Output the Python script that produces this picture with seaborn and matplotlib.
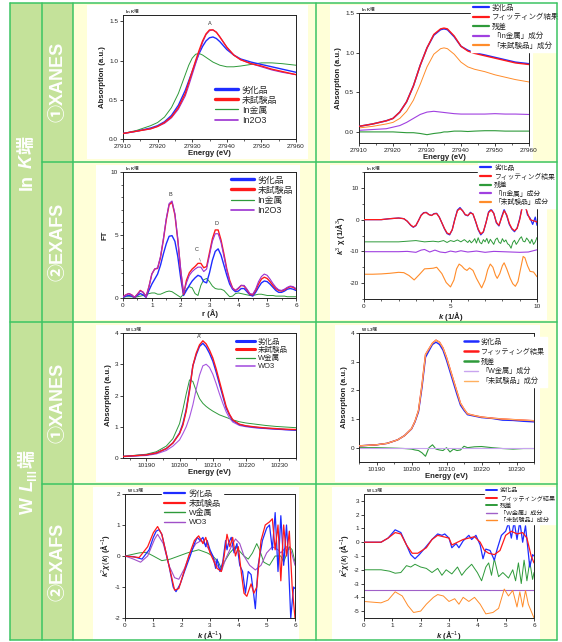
import matplotlib
matplotlib.use('Agg')
import matplotlib.pyplot as plt
import seaborn as sns
from matplotlib.patches import Rectangle
from matplotlib.lines import Line2D
from matplotlib.ticker import MultipleLocator

# ---------------- data ----------------
# In K-edge XANES
in_e = [27910, 27914, 27918, 27920, 27922, 27924, 27926, 27928, 27929, 27930, 27931, 27932, 27933,
        27934, 27935, 27936, 27937, 27938, 27940, 27942, 27944, 27947, 27950, 27953, 27956, 27960]
in_deg = [0.07, 0.10, 0.14, 0.17, 0.22, 0.30, 0.43, 0.62, 0.74, 0.86, 0.98, 1.09, 1.18,
          1.25, 1.29, 1.30, 1.28, 1.24, 1.14, 1.07, 1.02, 0.98, 0.95, 0.92, 0.89, 0.85]
in_new = [0.07, 0.10, 0.13, 0.16, 0.21, 0.28, 0.40, 0.58, 0.72, 0.86, 1.00, 1.13, 1.25,
          1.34, 1.39, 1.39, 1.36, 1.30, 1.17, 1.07, 1.01, 0.96, 0.93, 0.89, 0.86, 0.82]
in_metal = [0.07, 0.11, 0.17, 0.21, 0.28, 0.40, 0.58, 0.82, 0.94, 1.03, 1.08, 1.09, 1.07,
            1.04, 1.01, 0.98, 0.96, 0.94, 0.92, 0.92, 0.93, 0.95, 0.97, 0.97, 0.96, 0.94]
in_oxide = [0.07, 0.10, 0.13, 0.16, 0.20, 0.27, 0.38, 0.55, 0.68, 0.82, 0.96, 1.10, 1.23,
            1.33, 1.38, 1.39, 1.36, 1.30, 1.17, 1.07, 1.01, 0.96, 0.92, 0.88, 0.85, 0.82]

# In K-edge XANES fitting
fit_e = [27910, 27914, 27918, 27920, 27922, 27924, 27926, 27928, 27930, 27932, 27934,
         27935, 27936, 27938, 27940, 27942, 27944, 27947, 27950, 27953, 27956, 27960]
fit_deg = [0.07, 0.10, 0.14, 0.17, 0.25, 0.38, 0.58, 0.84, 1.06, 1.22, 1.29,
           1.30, 1.29, 1.20, 1.08, 1.03, 1.00, 0.97, 0.94, 0.91, 0.88, 0.86]
fit_sum = [0.07, 0.10, 0.14, 0.17, 0.25, 0.38, 0.58, 0.84, 1.06, 1.23, 1.30,
           1.31, 1.30, 1.21, 1.08, 1.02, 0.99, 0.96, 0.93, 0.90, 0.87, 0.85]
fit_res = [0.0, 0.0, 0.0, 0.0, -0.005, -0.01, -0.01, -0.02, -0.035, -0.02, -0.01,
           0.0, 0.0, 0.01, 0.01, 0.005, 0.01, 0.015, 0.015, 0.01, 0.01, 0.01]
fit_metal = [0.02, 0.03, 0.04, 0.06, 0.08, 0.12, 0.17, 0.22, 0.25, 0.26, 0.25,
             0.245, 0.24, 0.23, 0.225, 0.225, 0.225, 0.225, 0.23, 0.225, 0.225, 0.22]
fit_new = [0.05, 0.07, 0.10, 0.12, 0.17, 0.26, 0.40, 0.60, 0.82, 0.98, 1.05,
           1.06, 1.05, 0.98, 0.88, 0.82, 0.79, 0.76, 0.72, 0.69, 0.66, 0.63]

# In K-edge FT
ft_r = [0.0, 0.1, 0.2, 0.3, 0.4, 0.5, 0.6, 0.7, 0.8, 0.9, 1.0, 1.1, 1.2, 1.3, 1.4, 1.5, 1.6, 1.7, 1.8, 1.9,
        2.0, 2.1, 2.2, 2.3, 2.4, 2.5, 2.6, 2.7, 2.8, 2.9, 3.0, 3.1, 3.2, 3.3, 3.4, 3.5, 3.6, 3.7, 3.8, 3.9,
        4.0, 4.1, 4.2, 4.3, 4.4, 4.5, 4.6, 4.7, 4.8, 4.9, 5.0, 5.1, 5.2, 5.3, 5.4, 5.5, 5.6, 5.7, 5.8, 5.9, 6.0]
ft_deg = [0.05, 0.15, 0.2, 0.15, 0.05, 0.2, 0.35, 0.25, 0.05, 0.6, 1.1, 1.5, 1.9, 2.6, 3.5, 4.3, 4.9, 4.95, 4.5, 3.3,
          1.6, 0.2, 0.6, 1.0, 1.35, 1.6, 1.8, 1.7, 1.3, 1.2, 2.0, 3.0, 3.7, 3.9, 3.4, 2.6, 1.8, 1.1, 0.7, 0.5,
          0.55, 0.75, 0.75, 0.5, 0.25, 0.15, 0.45, 0.85, 1.2, 1.35, 1.3, 1.1, 0.85, 0.6, 0.45, 0.45, 0.55, 0.7, 0.75, 0.7, 0.6]
ft_new = [0.1, 0.25, 0.35, 0.25, 0.05, 0.3, 0.6, 0.45, 0.1, 0.9, 1.9, 2.3, 2.35, 3.2, 4.6, 6.2, 7.4, 7.6, 6.6, 4.6,
          2.2, 0.3, 1.4, 2.0, 2.3, 2.5, 2.75, 2.75, 2.4, 2.5, 3.6, 4.7, 5.4, 5.4, 4.6, 3.5, 2.3, 1.4, 0.8, 0.6,
          0.75, 1.0, 0.95, 0.65, 0.3, 0.25, 0.6, 1.1, 1.5, 1.65, 1.55, 1.3, 1.0, 0.75, 0.6, 0.55, 0.65, 0.8, 0.9, 0.85, 0.7]
ft_metal = [0.05, 0.1, 0.1, 0.1, 0.05, 0.1, 0.15, 0.2, 0.25, 0.35, 0.4, 0.4, 0.3, 0.3, 0.4, 0.5, 0.55, 0.5, 0.35, 0.2,
            0.05, 0.3, 0.7, 0.9, 0.8, 0.35, 0.2, 1.0, 1.45, 1.55, 1.3, 0.95, 0.75, 0.7, 0.7, 0.6, 0.35, 0.1, 0.15, 0.35,
            0.4, 0.35, 0.3, 0.25, 0.2, 0.2, 0.25, 0.3, 0.3, 0.25, 0.2, 0.2, 0.2, 0.15, 0.15, 0.15, 0.15, 0.1, 0.1, 0.1, 0.1]
ft_oxide = [0.1, 0.25, 0.35, 0.25, 0.05, 0.3, 0.55, 0.45, 0.1, 0.9, 1.9, 2.3, 2.4, 3.3, 4.7, 6.3, 7.5, 7.7, 6.7, 4.7,
            2.3, 0.4, 1.2, 1.8, 2.1, 2.3, 2.45, 2.45, 2.1, 2.3, 3.4, 4.5, 5.1, 5.1, 4.4, 3.3, 2.2, 1.3, 0.75, 0.6,
            0.8, 1.0, 1.0, 0.7, 0.35, 0.3, 0.7, 1.3, 1.7, 1.9, 1.8, 1.5, 1.15, 0.85, 0.65, 0.6, 0.7, 0.85, 0.95, 0.9, 0.75]

# In K-edge k^3 chi fitting
chi_k = [0, 0.5, 1.0, 1.5, 2.0, 2.3, 2.5, 2.7, 2.85,
         3.0, 3.15, 3.3, 3.45, 3.6, 3.75, 3.9, 4.05, 4.2, 4.35, 4.5, 4.65, 4.8, 4.95, 5.1, 5.25, 5.4, 5.55, 5.7, 5.85,
         6.0, 6.15, 6.3, 6.45, 6.6, 6.75, 6.9, 7.05, 7.2, 7.35, 7.5, 7.65, 7.8, 7.95, 8.1, 8.25, 8.4, 8.55, 8.7, 8.85,
         9.0, 9.15, 9.3, 9.45, 9.6, 9.75, 9.9, 10.0]
chi_deg = [0, 0, 0, 0.3, 0.5, 0.3, -0.5, -1.8, -2.4,
           -1.9, -0.3, 1.4, 2.2, 2.3, 1.6, 1.3, 1.9, 2.0, 0.8, -1.0, -2.9, -4.4, -4.8, -3.2, 0.2, 3.0, 3.8, 2.8, 1.5,
           1.2, 2.3, 1.7, -0.6, -3.2, -4.8, -3.9, -1.0, 2.4, 3.3, 2.0, -1.0, -2.0, 0.8, 3.2, 1.2, -1.5, -3.0, -3.8, -2.6,
           0.3, 4.2, 5.2, 1.5, 0.5, -1.5, 0.8, -1.8]
chi_sum = [0, 0, 0, 0.3, 0.5, 0.3, -0.5, -1.7, -2.3,
           -1.8, -0.3, 1.3, 2.1, 2.2, 1.6, 1.3, 1.8, 1.9, 0.8, -1.0, -2.8, -4.2, -4.6, -3.2, 0.0, 2.8, 3.5, 2.8, 1.6,
           1.3, 2.1, 1.8, -0.5, -3.0, -4.5, -3.8, -1.0, 2.2, 3.0, 2.0, -0.8, -1.8, 0.5, 2.8, 1.5, -1.2, -2.8, -3.5, -2.8,
           0.0, 4.0, 4.6, 2.0, 0.0, -0.3, -0.5, -0.8]
res_k = [0, 1, 2, 3, 3.5, 4.0, 4.3, 4.6, 4.8, 5.0, 5.2, 5.4, 5.6, 5.8,
         6.0, 6.1, 6.2, 6.3, 6.4, 6.5, 6.6, 6.7, 6.8, 6.9, 7.0, 7.1, 7.2, 7.3, 7.4, 7.5, 7.6, 7.7, 7.8, 7.9,
         8.0, 8.1, 8.2, 8.3, 8.4, 8.5, 8.6, 8.7, 8.8, 8.9, 9.0, 9.1, 9.2, 9.3, 9.4, 9.5, 9.6, 9.7, 9.8, 9.9, 10.0]
chi_res = [-7.0, -7.0, -7.0, -6.6, -7.0, -6.8, -7.0, -6.6, -7.2, -6.6, -6.9, -6.4, -7.0, -6.3,
           -7.2, -6.5, -7.3, -6.8, -6.0, -7.4, -5.7, -7.2, -7.6, -6.3, -7.0, -5.9, -7.5, -6.2, -7.0, -7.8, -6.3, -5.8, -7.1, -7.5,
           -6.0, -7.0, -6.4, -7.6, -8.0, -9.0, -7.2, -6.5, -7.8, -7.0, -6.0, -5.4, -6.8, -7.0, -5.8, -6.5, -7.5, -6.2, -7.8, -7.0, -5.6]
metal_k = [0, 1, 2, 2.5, 3.0, 3.3, 3.5, 3.8, 4.1, 4.4, 4.7, 5.0, 5.3, 5.6, 6.0, 6.5, 7.0, 7.5, 8.0, 8.5, 9.0, 9.5, 10.0]
chi_metal = [-10.1, -10.1, -10.1, -10.0, -10.3, -9.6, -9.4, -10.2, -9.6, -10.2, -10.4, -9.9, -10.2, -9.8,
             -10.2, -9.9, -10.3, -10.0, -10.1, -10.2, -10.3, -10.2, -9.5]
new_k = [0, 0.5, 1.0, 1.5, 2.0, 2.3, 2.6, 2.9, 3.2, 3.5, 3.8, 4.0, 4.2, 4.5, 4.75, 5.0, 5.2, 5.35, 5.5, 5.65,
         5.8, 5.95, 6.1, 6.3, 6.5, 6.8, 7.0, 7.15, 7.3, 7.45, 7.6, 7.7, 7.85, 8.0, 8.1, 8.25, 8.45, 8.6, 8.75, 8.9,
         9.05, 9.2, 9.3, 9.45, 9.6, 9.8, 10.0]
chi_new = [-17.2, -17.2, -17.1, -16.9, -16.6, -16.7, -17.6, -19.0, -17.3, -15.5, -15.4, -15.3, -15.0, -17.0, -19.8,
           -21.2, -19.0, -15.5, -14.0, -14.6, -15.5, -16.0, -15.2, -16.0, -18.5, -21.5, -19.0, -15.8, -14.0, -15.0,
           -17.5, -18.5, -17.0, -14.5, -13.6, -15.5, -18.5, -20.2, -21.0, -19.5, -15.5, -11.6, -12.0, -14.5, -16.3, -16.5, -18.0]

# W L3-edge XANES
w_e = [10183, 10186, 10190, 10193, 10196, 10198, 10200, 10201, 10202, 10203, 10204, 10205, 10206, 10207, 10208,
       10209, 10210, 10211, 10212, 10213, 10214, 10215, 10216, 10218, 10220, 10223, 10226, 10229, 10232, 10235]
w_deg = [0.05, 0.07, 0.10, 0.16, 0.30, 0.48, 0.80, 1.10, 1.55, 2.20, 2.95, 3.30, 3.57, 3.67, 3.55,
         3.35, 3.10, 2.75, 2.36, 1.98, 1.60, 1.38, 1.20, 1.07, 1.02, 0.98, 0.95, 0.93, 0.91, 0.89]
w_new = [0.05, 0.07, 0.10, 0.16, 0.30, 0.48, 0.78, 1.05, 1.50, 2.15, 2.95, 3.35, 3.62, 3.75, 3.65,
         3.45, 3.20, 2.85, 2.45, 2.05, 1.65, 1.40, 1.22, 1.08, 1.03, 0.99, 0.96, 0.94, 0.92, 0.91]
w_metal = [0.05, 0.08, 0.12, 0.20, 0.38, 0.62, 1.10, 1.55, 2.05, 2.50, 2.45, 2.15, 1.90, 1.75, 1.65,
           1.57, 1.50, 1.44, 1.38, 1.34, 1.30, 1.26, 1.22, 1.16, 1.12, 1.08, 1.04, 1.01, 0.99, 0.97]
w_oxide = [0.04, 0.06, 0.08, 0.13, 0.24, 0.38, 0.58, 0.78, 1.00, 1.30, 1.70, 2.20, 2.65, 2.95, 3.00,
           2.90, 2.68, 2.38, 2.05, 1.75, 1.48, 1.28, 1.15, 1.04, 1.00, 0.96, 0.94, 0.92, 0.90, 0.89]

# W L3-edge XANES fitting
wf_deg = [0.05, 0.07, 0.10, 0.15, 0.27, 0.42, 0.65, 0.90, 1.25, 2.10, 3.15, 3.38, 3.60, 3.68, 3.60,
          3.40, 3.05, 2.65, 2.25, 1.85, 1.48, 1.30, 1.15, 1.10, 1.05, 1.02, 0.96, 0.95, 0.92, 0.90]
wf_sum = [0.05, 0.07, 0.10, 0.15, 0.27, 0.42, 0.66, 0.92, 1.30, 2.20, 3.25, 3.45, 3.65, 3.75, 3.68,
          3.48, 3.15, 2.75, 2.35, 1.95, 1.55, 1.35, 1.18, 1.12, 1.07, 1.03, 1.00, 0.98, 0.96, 0.94]
wf_res = [0.0, 0.0, 0.0, -0.01, -0.02, -0.03, -0.05, -0.08, -0.10, -0.18, -0.30, 0.0, 0.10, -0.05, -0.08,
          -0.10, 0.0, -0.15, -0.05, -0.10, -0.08, 0.05, 0.0, 0.03, 0.04, 0.0, -0.03, -0.05, -0.03, -0.03]
wf_metal_e = [10185, 10235]
wf_metal = [0.0, 0.0]

# W L3-edge k^2 chi
w7_kb = [0, 0.3, 0.6, 0.85, 1.0, 1.1, 1.2, 1.3, 1.45, 1.55, 1.7, 1.8, 1.95, 2.1, 2.3, 2.45, 2.55, 2.65, 2.75, 2.85,
         2.9, 3.0, 3.1, 3.2, 3.25, 3.35, 3.45, 3.55, 3.6, 3.65, 3.75, 3.85, 3.95, 4.05, 4.15, 4.25, 4.35, 4.45, 4.55, 4.6,
         4.7, 4.85, 5.0, 5.1, 5.2, 5.3, 5.4, 5.5, 5.6, 5.7, 5.75, 5.85, 5.95, 6.0]
w7_deg = [0, -0.02, -0.1, 0.2, 0.6, 0.8, 0.85, 0.7, 0.1, -0.3, -1.0, -1.15, -0.9, -0.5, 0.0, 0.4, 0.6, 0.5, 0.6, 0.3,
          0.5, 0.2, 0.0, -0.4, -0.1, -0.5, -0.2, 0.5, 0.2, 0.4, 0.6, 0.1, 0.4, -0.3, -0.5, -1.2, -0.5, -0.6, -1.3, -1.7,
          -0.3, 0.5, 0.9, 1.0, 0.2, 1.4, -0.5, 1.3, -0.3, 1.0, 0.2, -2.0, -1.0, -1.05]
w7_kr = [0, 0.5, 0.8, 1.0, 1.15, 1.3, 1.45, 1.6, 1.75, 1.9, 2.05, 2.25, 2.45, 2.6, 2.75, 2.85, 3.0, 3.1, 3.25, 3.4,
         3.5, 3.6, 3.7, 3.8, 3.9, 4.0, 4.1, 4.2, 4.3, 4.45, 4.55, 4.65, 4.8, 4.95, 5.1, 5.2, 5.3, 5.4, 5.5, 5.6,
         5.7, 5.8, 5.9, 6.0]
w7_new = [0, -0.05, 0.3, 0.75, 0.95, 0.7, 0.1, -0.5, -1.1, -1.05, -0.6, 0.0, 0.5, 0.65, 0.4, 0.6, 0.1, -0.1, -0.4, -0.5,
          0.0, 0.7, 0.3, 0.6, 0.0, 0.3, -0.5, -1.2, -1.3, -0.9, -1.2, -1.0, 0.5, 1.0, 1.1, 1.2, 0.2, 1.0, -0.8, 1.0,
          0.0, 0.8, -1.0, -2.0]
w7_kg = [0, 0.5, 0.75, 1.0, 1.3, 1.6, 1.9, 2.2, 2.6, 2.9, 3.1, 3.3, 3.4, 3.5, 3.7, 3.9, 4.0, 4.2, 4.35, 4.5,
         4.65, 4.75, 4.9, 5.1, 5.3, 5.5, 5.6, 5.8, 5.9, 6.0]
w7_metal = [0, 0.1, 0.12, 0.0, -0.15, -0.1, 0.0, 0.1, 0.2, 0.1, 0.0, -0.2, -0.4, -0.2, 0.1, 0.3, 0.2, 0.0, -0.1, 0.1,
            0.4, 0.2, -0.2, -0.3, 0.0, 0.0, -0.2, 0.3, 0.2, -0.2]
w7_kp = [0, 0.3, 0.55, 0.8, 1.05, 1.15, 1.35, 1.55, 1.75, 1.9, 2.1, 2.3, 2.5, 2.7, 2.9, 3.1, 3.25, 3.4, 3.55, 3.75,
         3.9, 4.05, 4.2, 4.4, 4.6, 4.8, 5.0, 5.2, 5.4, 5.5, 5.7, 5.85, 6.0]
w7_oxide = [0, -0.1, -0.2, 0.0, 0.55, 0.7, 0.4, -0.3, -0.7, -0.75, -0.4, 0.1, 0.4, 0.5, 0.3, 0.0, -0.3, -0.5, -0.1, 0.3,
            0.55, 0.4, 0.0, -0.3, -0.45, -0.3, 0.1, 0.3, 0.2, 0.1, 0.3, 0.2, -0.3]

# W L3-edge k^2 chi fitting
w8_kb = [0, 0.6, 0.85, 1.1, 1.3, 1.5, 1.65, 1.8, 1.95, 2.2, 2.4, 2.6, 2.75, 2.85, 3.0, 3.1, 3.25, 3.35, 3.5, 3.7,
         3.8, 3.95, 4.1, 4.2, 4.3, 4.45, 4.6, 4.7, 4.85, 5.0, 5.1, 5.2, 5.3, 5.4, 5.5, 5.6, 5.7, 5.85, 5.95, 6.0]
w8_deg = [0, 0, 0.3, 0.9, 0.7, -0.2, -0.9, -1.2, -0.9, -0.3, 0.2, 0.6, 0.5, 0.6, 0.3, -0.4, -0.1, -0.4, 0.1, 0.5,
          0.2, 0.5, -0.2, -1.2, -0.5, -0.6, -1.3, -0.5, 0.5, 0.8, 1.4, 0.3, 1.5, 0.2, 1.5, 0.0, 1.2, -1.8, -0.9, -1.0]
w8_kr = [0, 0.6, 0.85, 1.1, 1.3, 1.5, 1.7, 1.9, 2.2, 2.4, 2.6, 2.8, 3.0, 3.1, 3.3, 3.5, 3.7, 3.9, 4.1, 4.25,
         4.4, 4.6, 4.8, 5.0, 5.2, 5.4, 5.6, 5.75, 5.9, 6.0]
w8_sum = [0, 0, 0.3, 0.7, 0.6, -0.2, -0.8, -0.8, -0.4, 0.2, 0.5, 0.4, 0.3, -0.2, 0.0, 0.2, 0.3, 0.4, 0.0, -0.6,
          -0.8, -0.9, -0.6, 0.5, 0.8, 0.6, 0.7, 0.3, -1.0, -1.5]
w8_kg = [0, 0.6, 0.9, 1.1, 1.3, 1.5, 1.65, 1.8, 2.0, 2.2, 2.4, 2.6, 2.75, 2.9, 3.1, 3.3, 3.45, 3.6, 3.8, 4.0,
         4.15, 4.3, 4.4, 4.5, 4.6, 4.75, 4.9, 5.1, 5.25, 5.35, 5.45, 5.55, 5.65, 5.75, 5.85, 5.95, 6.0]
w8_res = [-2.0, -2.0, -2.1, -2.25, -2.2, -1.7, -1.8, -1.6, -1.8, -1.9, -2.2, -1.9, -2.4, -2.0, -2.3, -1.8, -2.4, -2.0, -1.6, -2.2,
          -2.8, -1.8, -1.5, -2.4, -1.2, -2.5, -2.2, -2.6, -2.0, -2.8, -1.5, -3.0, -1.3, -2.8, -1.4, -2.7, -2.2]
w8_kp = [0, 6]
w8_metal = [-3.5, -3.5]
w8_ko = [0, 0.6, 0.85, 1.1, 1.35, 1.55, 1.75, 2.0, 2.2, 2.45, 2.6, 2.8, 3.0, 3.2, 3.35, 3.5, 3.7, 3.9, 4.1, 4.3,
         4.55, 4.75, 4.95, 5.1, 5.25, 5.4, 5.5, 5.6, 5.7, 5.8, 5.9, 6.0]
w8_new = [-4.3, -4.4, -4.2, -3.6, -3.9, -4.6, -5.1, -5.0, -4.5, -4.0, -3.8, -3.9, -4.3, -4.1, -4.5, -4.0, -4.3, -4.0, -4.5, -5.2,
          -5.1, -4.8, -3.4, -3.9, -3.5, -4.7, -3.6, -4.7, -3.5, -4.5, -5.0, -5.5]

# ---------------- style ----------------
sns.set_theme(style='ticks')
plt.rcParams['font.family'] = ['Liberation Sans', 'Noto Sans CJK JP', 'DejaVu Sans']
plt.rcParams['mathtext.fontset'] = 'custom'
plt.rcParams['mathtext.rm'] = 'Liberation Sans'
plt.rcParams['mathtext.it'] = 'Liberation Sans:italic:bold'
plt.rcParams['mathtext.bf'] = 'Liberation Sans:bold'
plt.rcParams['axes.unicode_minus'] = False
plt.rcParams['axes.formatter.useoffset'] = False
plt.rcParams['legend.fancybox'] = False

BLUE = '#1e2cff'
RED = '#ff1a1a'
GREEN = '#2e9a3a'
PURPLE = '#a040e0'
ORANGE = '#ff8c2a'
LILAC = '#c8a4ef'
LORANGE = '#ffb060'
LINE = '#3cc463'
LEAF = '#c4e29a'
CREAM = '#ffffd8'

W, H = 562, 642
fig = plt.figure(figsize=(W / 100, H / 100), dpi=100)
fig.patch.set_facecolor('white')


def box(x0, y0, x1, y1, color, z):
    fig.add_artist(Rectangle((x0 / W, 1 - y1 / H), (x1 - x0) / W, (y1 - y0) / H,
                             transform=fig.transFigure, facecolor=color, edgecolor='none', zorder=z))


def seg(x0, y0, x1, y1):
    fig.add_artist(Line2D([x0 / W, x1 / W], [1 - y0 / H, 1 - y1 / H], transform=fig.transFigure,
                          color=LINE, lw=1.1, zorder=4))


# table background
box(10, 3, 73, 640, LEAF, -3)
box(73, 3, 557, 640, CREAM, -3)
for rect in [(87, 5, 308, 159), (330, 5, 533, 160), (96, 165, 300, 320), (330, 165, 547, 320),
             (96, 325, 300, 482), (335, 325, 540, 482), (93, 487, 299, 640), (332, 487, 540, 640)]:
    box(*rect, 'white', -2)
for x in [10, 42, 73, 316, 557]:
    seg(x, 3, x, 640)
for y in [3, 322, 640]:
    seg(10, y, 557, y)
for y in [162, 484]:
    seg(42, y, 557, y)


def vlabel(x, yc, parts):
    r = fig.canvas.get_renderer()
    arts = []
    for s, size, style, dx, gap in parts:
        t = fig.text((x + dx) / W, 0, s, rotation=90, ha='center', va='bottom', color='white',
                     fontweight='bold', fontsize=size, fontstyle=style, zorder=5)
        arts.append((t, gap))
    hs = [t.get_window_extent(r).height for t, _ in arts]
    total = sum(hs) + sum(g for _, g in arts)
    yb = (H - yc) - total / 2
    for (t, g), h in zip(arts, hs):
        t.set_y(yb / H)
        yb += h + g


vlabel(27, 163, [('In', 13, 'normal', 0, 6), ('K', 13, 'italic', 0, 2), ('端', 13, 'normal', 0, 0)])
vlabel(28, 482, [('W', 13, 'normal', 0, 6), ('L', 13, 'italic', 0, 0), ('Ⅲ', 8, 'normal', 5, 1),
                 ('端', 13, 'normal', 0, 0)])
for yc, s in [(82, '①XANES'), (242, '②EXAFS'), (403, '①XANES'), (562, '②EXAFS')]:
    vlabel(58, yc, [(s, 13, 'normal', 0, 0)])


def make_ax(l, t, r, b):
    return fig.add_axes([l / W, 1 - b / H, (r - l) / W, (b - t) / H])


def style(ax, xlim, ylim, xmaj, ymaj, xmin, ymin, xlabel, ylabel, head):
    ax.set_xlim(*xlim)
    ax.set_ylim(*ylim)
    ax.xaxis.set_major_locator(MultipleLocator(xmaj))
    ax.yaxis.set_major_locator(MultipleLocator(ymaj))
    if xmin:
        ax.xaxis.set_minor_locator(MultipleLocator(xmin))
    if ymin:
        ax.yaxis.set_minor_locator(MultipleLocator(ymin))
    ax.tick_params(which='major', direction='out', length=2, width=0.6, labelsize=4.6, pad=1.5, colors='#222222')
    ax.tick_params(which='minor', direction='out', length=1.2, width=0.5, colors='#222222')
    for s in ax.spines.values():
        s.set_linewidth(0.7)
        s.set_color('#222222')
    ax.set_facecolor('white')
    ax.grid(False)
    ax.set_xlabel(xlabel, fontsize=5.6, fontweight='bold', labelpad=1, color='#222222')
    ax.set_ylabel(ylabel, fontsize=5.6, fontweight='bold', labelpad=2, color='#222222')
    ax.text(0.02, 1.01, head, transform=ax.transAxes, fontsize=3.2, fontweight='bold', va='bottom', color='#333333')


def curve(ax, x, y, color, lw, label, z=2):
    sns.lineplot(x=x, y=y, ax=ax, color=color, linewidth=lw, label=label, estimator=None, sort=False, zorder=z)


def legend(ax, anchor, fs, lws, framed, spacing=0.12, hl=2.6):
    leg = ax.legend(loc='upper left', bbox_to_anchor=anchor, fontsize=fs, frameon=framed, handlelength=hl,
                    handletextpad=0.4, labelspacing=spacing, borderpad=0.25, borderaxespad=0)
    if framed:
        leg.get_frame().set_facecolor('white')
        leg.get_frame().set_edgecolor('white')
        leg.get_frame().set_alpha(1)
    for ln, w in zip(leg.get_lines(), lws):
        ln.set_linewidth(w)
    leg.set_zorder(6)


# ---- panel 1: In K XANES
ax = make_ax(123, 15, 296, 139)
curve(ax, in_e, in_deg, BLUE, 1.0, '劣化品', 3)
curve(ax, in_e, in_new, RED, 1.0, '未試験品', 4)
curve(ax, in_e, in_metal, GREEN, 0.7, 'In金属', 2)
curve(ax, in_e, in_oxide, '#9b30d0', 0.8, 'In2O3', 3)
style(ax, (27910, 27960), (0, 1.58), 10, 0.5, 5, None, 'Energy (eV)', 'Absorption (a.u.)', 'In K端')
ax.text(27935, 1.45, 'A', fontsize=4, ha='center', color='#333333')
legend(ax, (0.52, 0.45), 6.4, [2.4, 2.4, 0.9, 1.2], False)

# ---- panel 2: In K XANES fitting
ax = make_ax(359, 13, 529, 143)
curve(ax, fit_e, fit_deg, BLUE, 1.1, '劣化品', 3)
curve(ax, fit_e, fit_sum, RED, 1.0, 'フィッティング結果', 4)
curve(ax, fit_e, fit_res, GREEN, 0.8, '残差', 2)
curve(ax, fit_e, fit_metal, PURPLE, 0.8, '「In金属」成分', 2)
curve(ax, fit_e, fit_new, ORANGE, 0.7, '「未試験品」成分', 2)
style(ax, (27910, 27960), (-0.14, 1.5), 10, 0.5, 5, None, 'Energy (eV)', 'Absorption (a.u.)', 'In K端')
legend(ax, (0.66, 1.08), 5.4, [1.6, 1.6, 1.6, 1.6, 1.6], True, 0.28, 2.1)

# ---- panel 3: In K FT
ax = make_ax(123, 172, 296, 298)
curve(ax, ft_r, ft_deg, BLUE, 1.0, '劣化品', 3)
curve(ax, ft_r, ft_new, RED, 1.0, '未試験品', 4)
curve(ax, ft_r, ft_metal, GREEN, 0.7, 'In金属', 2)
curve(ax, ft_r, ft_oxide, '#9b30d0', 0.8, 'In2O3', 5)
style(ax, (0, 6), (0, 10), 1, 5, 0.5, 1, 'r (Å)', 'FT', 'In K端')
ax.text(1.65, 8.1, 'B', fontsize=4, ha='center', color='#333333')
ax.text(3.25, 5.8, 'D', fontsize=4, ha='center', color='#333333')
ax.annotate('C', xy=(2.72, 2.7), xytext=(2.55, 3.7), fontsize=4, ha='center', color='#333333',
            arrowprops=dict(arrowstyle='-', lw=0.4, color='#666666'))
legend(ax, (0.61, 0.99), 6.4, [2.4, 2.4, 0.9, 1.2], False)

# ---- panel 4: In K k^3 chi fitting
ax = make_ax(364, 172, 537, 299)
curve(ax, chi_k, chi_deg, BLUE, 0.9, '劣化品', 3)
curve(ax, chi_k, chi_sum, RED, 0.9, 'フィッティング結果', 4)
curve(ax, res_k, chi_res, GREEN, 0.7, '残差', 2)
curve(ax, metal_k, chi_metal, PURPLE, 0.8, '「In金属」成分', 2)
curve(ax, new_k, chi_new, ORANGE, 0.8, '「未試験品」成分', 2)
style(ax, (0, 10), (-25, 15), 5, 10, 1, 5, r'$k$ (1/Å)', r'$k^3$ χ (1/Å$^3$)', 'In K端')
legend(ax, (0.66, 1.07), 4.9, [1.6, 1.6, 1.6, 1.6, 1.6], True, 0.22, 1.7)

# ---- panel 5: W L3 XANES
ax = make_ax(123, 333, 296, 458)
curve(ax, w_e, w_deg, BLUE, 1.0, '劣化品', 3)
curve(ax, w_e, w_new, RED, 1.0, '未試験品', 4)
curve(ax, w_e, w_metal, GREEN, 0.7, 'W金属', 2)
curve(ax, w_e, w_oxide, '#a857e0', 0.8, 'WO3', 2)
style(ax, (10183, 10235), (0, 4), 10, 1, 5, None, 'Energy (eV)', 'Absorption (a.u.)', 'W L3端')
ax.text(10206, 3.85, "A'", fontsize=4, ha='center', color='#333333')
legend(ax, (0.64, 0.97), 5.4, [2.2, 2.2, 0.9, 1.2], False)

# ---- panel 6: W L3 XANES fitting
ax = make_ax(359, 333, 534, 462)
curve(ax, w_e, wf_deg, BLUE, 1.0, '劣化品', 3)
curve(ax, w_e, wf_sum, RED, 1.0, 'フィッティング結果', 4)
curve(ax, w_e, wf_res, GREEN, 0.8, '残差', 2)
curve(ax, wf_metal_e, wf_metal, LILAC, 0.8, '「W金属」成分', 2)
curve(ax, w_e, wf_sum, LORANGE, 0.8, '「未試験品」成分', 5)
style(ax, (10185, 10235), (-0.5, 4), 10, 1, 5, None, 'Energy (eV)', 'Absorption (a.u.)', 'W L3端')
legend(ax, (0.59, 0.97), 5.1, [1.8, 1.8, 1.8, 1.0, 1.0], True, 0.36, 2.0)

# ---- panel 7: W L3 k^2 chi
ax = make_ax(125, 494, 295, 618)
curve(ax, w7_kb, w7_deg, BLUE, 0.9, '劣化品', 3)
curve(ax, w7_kr, w7_new, RED, 0.9, '未試験品', 4)
curve(ax, w7_kg, w7_metal, GREEN, 0.7, 'W金属', 2)
curve(ax, w7_kp, w7_oxide, '#a050c8', 0.8, 'WO3', 2)
style(ax, (0, 6), (-2, 2), 1, 1, None, None, r'$k$ (Å$^{-1}$)', r'$k^2\chi(k)$ (Å$^{-1}$)', 'W L3端')
legend(ax, (0.22, 1.05), 5.8, [1.6, 1.6, 1.0, 1.0], True, 0.2)

# ---- panel 8: W L3 k^2 chi fitting
ax = make_ax(364, 494, 534, 618)
curve(ax, w8_kb, w8_deg, BLUE, 0.9, '劣化品', 3)
curve(ax, w8_kr, w8_sum, RED, 0.9, 'フィッティング結果', 4)
curve(ax, w8_kg, w8_res, GREEN, 0.7, '残差', 2)
curve(ax, w8_kp, w8_metal, '#a060c8', 0.8, '「W金属」成分', 2)
curve(ax, w8_ko, w8_new, ORANGE, 0.7, '「未試験品」成分', 2)
style(ax, (0, 6), (-5.5, 3.5), 1, 1, None, None, r'$k$ (Å$^{-1}$)', r'$k^2\chi(k)$ (Å$^{-1}$)', 'W L3端')
legend(ax, (0.71, 1.06), 4.4, [1.4, 1.4, 1.4, 1.0, 1.0], True, 0.3, 1.8)

fig.savefig('out.png', dpi=100)
